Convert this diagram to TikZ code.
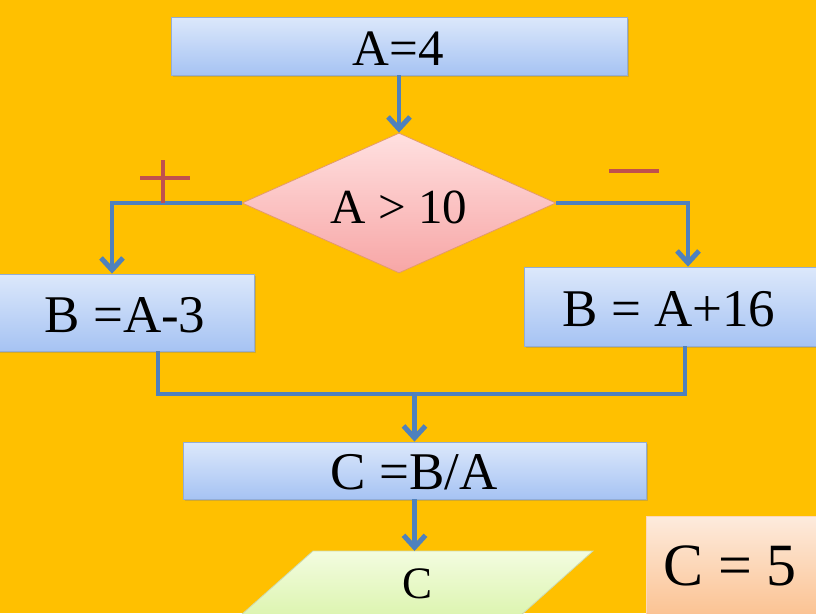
\documentclass[tikz,border=0pt]{standalone}
\usepackage{fontspec}
\setmainfont{Liberation Serif}
\usetikzlibrary{shapes.geometric,arrows.meta,shadows}
\definecolor{bg}{HTML}{FFC000}
\definecolor{ln}{HTML}{4F81BD}
\definecolor{sg}{HTML}{C0504D}
\definecolor{bluetop}{HTML}{DCE8FB}
\definecolor{bluebot}{HTML}{A6C3F3}
\definecolor{blueedge}{HTML}{93ADD6}
\definecolor{pinktop}{HTML}{FFE0E0}
\definecolor{pinkbot}{HTML}{F7A6A6}
\definecolor{pinkedge}{HTML}{E39A6A}
\definecolor{greentop}{HTML}{F3FCE0}
\definecolor{greenbot}{HTML}{D4F29E}
\definecolor{peachtop}{HTML}{FDEBDD}
\definecolor{peachbot}{HTML}{FBBE8A}
\tikzset{
  procbox/.style={rectangle, draw=blueedge, line width=0.8pt, top color=bluetop, bottom color=bluebot,
     inner sep=0pt, drop shadow={opacity=0.35, shadow xshift=2pt, shadow yshift=-2pt}},
  conn/.style={draw=ln, line width=4.5pt, line join=miter},
  arr/.style={conn, -{Straight Barb[length=12pt,width=22pt,line width=5pt]}},
  signline/.style={draw=sg, line width=4pt},
  bigtxt/.style={font=\fontsize{53}{60}\selectfont}
}
\begin{document}
\begin{tikzpicture}[x=1pt,y=-1pt]
\useasboundingbox (0,0) rectangle (816,613);
\clip (0,0) rectangle (816,613);
\fill[bg] (0,0) rectangle (816,613);

% top box
\node[procbox, minimum width=456pt, minimum height=58pt] (a) at (399,46) {};
\node[font=\fontsize{51}{58}\selectfont, inner sep=0pt] (atxt) at (398,49) {A=4};
% decision
\node[diamond, draw=pinkedge, line width=0.8pt, top color=pinktop, bottom color=pinkbot,
      minimum width=314pt, minimum height=140pt, aspect=2.24, inner sep=0pt] (d) at (399,203) {};
\node[font=\fontsize{49}{56}\selectfont, inner sep=0pt] (dtxt) at (399,207) {A > 10};
% branch boxes
\node[procbox, minimum width=258pt, minimum height=77pt] (bl) at (125,312.5) {};
\node[bigtxt, inner sep=0pt] (bltxt) at (125,315) {B =A-3};
\node[procbox, minimum width=296pt, minimum height=79pt] (br) at (672,306.5) {};
\node[bigtxt, inner sep=0pt] (brtxt) at (669,309) {B = A+16};
% C box
\node[procbox, minimum width=463pt, minimum height=57pt] (c) at (414.5,470.5) {};
\node[bigtxt, inner sep=0pt] (ctxt) at (414,472) {C =B/A};
% output parallelogram
\path[draw=greenbot!80!black!60, line width=0.8pt, top color=greentop, bottom color=greenbot]
   (313,551) -- (593,551) -- (493,640) -- (213,640) -- cycle;
\node[font=\fontsize{45}{50}\selectfont, inner sep=0pt] (out) at (418,584) {C};
\coordinate (outtop) at (414.5,551);
% result box
\node[rectangle, draw=peachbot!60, line width=0.8pt, top color=peachtop, bottom color=peachbot,
      minimum width=180pt, minimum height=110pt, inner sep=0pt, anchor=north west] (res) at (646,516) {};
\node[font=\fontsize{60}{66}\selectfont, inner sep=0pt] (restxt) at (730,566) {C = 5};

% connectors
\draw[arr] (a.south) -- (d.north);
\coordinate (lj) at (112,203);
\coordinate (rj) at (688,203);
\draw[arr] (d.west) -- (lj) -- (lj |- bl.north);
\draw[arr] (d.east) -- (rj) -- (rj |- br.north);
\coordinate (ml) at (158,394);
\coordinate (mr) at (685,394);
\coordinate (mm) at (414.5,394);
\draw[conn] (ml |- bl.south) -- (ml) -- (mr) -- (mr |- br.south);
\draw[arr] (mm) -- (c.north);
\draw[arr] (c.south) -- (outtop);

% plus / minus signs
\coordinate (ph1) at (140,178);
\coordinate (ph2) at (190,178);
\coordinate (pv1) at (163,160);
\coordinate (pv2) at (163,203);
\draw[signline] (ph1) -- (ph2);
\draw[signline] (pv1) -- (pv2);
\coordinate (m1) at (609,171);
\coordinate (m2) at (659,171);
\draw[signline] (m1) -- (m2);
\end{tikzpicture}
\end{document}
